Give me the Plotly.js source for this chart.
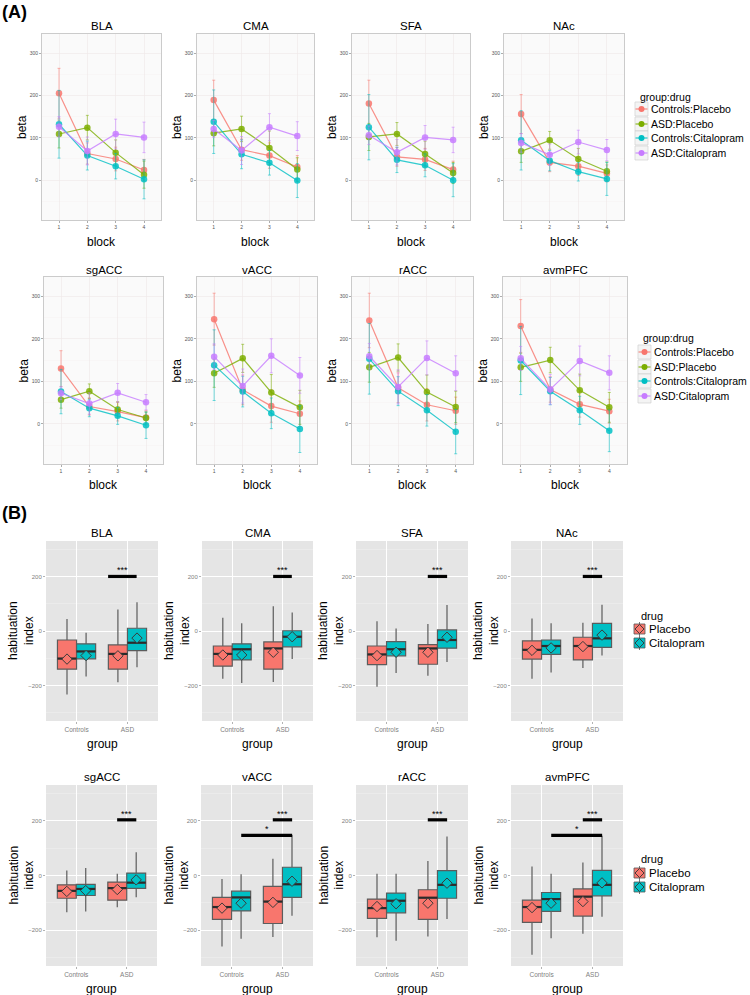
<!DOCTYPE html>
<html><head><meta charset="utf-8">
<script src="https://cdn.plot.ly/plotly-3.0.1.min.js"></script>
<style>html,body{margin:0;padding:0;background:#fff}#chart{width:750px;height:995px}</style>
</head><body><div id="chart"></div>
<script>
// ================= DATA =================
const regions = ['BLA','CMA','SFA','NAc','sgACC','vACC','rACC','avmPFC'];
const blocks = [1,2,3,4];
const seriesNames = ['Controls:Placebo','ASD:Placebo','Controls:Citalopram','ASD:Citalopram'];

// Panel A: mean beta per block (rows = regions in order above)
const ctrlPlaceboBeta = [[205,63,50,24],[189,72,58,31],[181,55,49,25],[156,42,33,16],[130,41,29,15],[246,80,42,24],[243,85,45,31],[230,81,46,30]];
const ctrlPlaceboErr  = [[59,25,28,25],[47,25,30,27],[55,22,26,20],[46,22,22,20],[42,20,22,16],[61,35,38,30],[64,35,38,32],[62,30,30,28]];
const asdPlaceboBeta  = [[109,124,65,13],[111,121,76,25],[102,109,62,17],[68,94,50,21],[57,77,34,14],[119,154,74,39],[133,156,75,40],[133,150,79,39]];
const asdPlaceboErr   = [[33,29,30,32],[30,30,40,28],[32,27,30,25],[26,21,25,22],[20,17,18,14],[33,33,42,40],[35,32,40,37],[33,30,38,35]];
const ctrlCitBeta     = [[132,58,33,2],[138,61,41,-1],[125,48,35,0],[94,46,20,3],[76,37,19,-3],[138,76,25,-12],[153,77,32,-18],[149,77,32,-16]];
const ctrlCitErr      = [[80,34,30,46],[75,34,29,40],[77,30,27,39],[70,24,22,39],[52,20,20,31],[83,36,36,55],[83,34,37,52],[80,32,33,49]];
const asdCitBeta      = [[126,69,109,101],[121,70,125,104],[106,66,101,95],[88,60,90,71],[72,48,73,51],[158,89,160,114],[159,87,155,119],[154,81,148,120]];
const asdCitErr       = [[24,33,35,36],[20,33,32,34],[22,30,28,30],[22,25,28,25],[15,25,22,18],[30,40,40,42],[30,40,40,41],[28,35,35,40]];

// Panel B: habituation index boxes [lower whisker, q1, median, q3, upper whisker]
const groups = ['Controls','ASD'];
const drugs = ['Placebo','Citalopram'];
const ctrlPlaceboBox = [[-233,-140,-101,-33,44],[-175,-129,-84,-55,49],[-204,-123,-86,-55,36],[-175,-103,-69,-36,46],[-134,-83,-56,-34,18],[-259,-160,-115,-80,-13],[-225,-156,-119,-86,6],[-289,-171,-115,-90,33]];
const ctrlCitBox      = [[-167,-102,-75,-47,-6],[-191,-106,-67,-47,28],[-154,-91,-67,-39,9],[-152,-86,-55,-33,28],[-131,-73,-49,-32,27],[-231,-129,-80,-57,5],[-238,-136,-92,-64,6],[-229,-131,-86,-62,6]];
const asdPlaceboBox   = [[-188,-140,-84,-51,79],[-187,-140,-64,-40,91],[-164,-122,-64,-50,26],[-136,-106,-55,-23,30],[-116,-90,-46,-24,6],[-224,-175,-95,-40,61],[-222,-160,-81,-52,53],[-212,-148,-77,-49,47]];
const asdCitBox       = [[-133,-72,-43,10,105],[-103,-58,-21,1,68],[-114,-63,-33,4,95],[-90,-60,-27,28,96],[-79,-47,-26,9,85],[-147,-80,-32,30,148],[-159,-83,-34,18,142],[-150,-74,-34,19,145]];
const ctrlPlaceboMean = [-103,-88,-90,-71,-58,-119,-113,-117];
const ctrlCitMean     = [-90,-88,-78,-62,-55,-101,-103,-101];
const asdPlaceboMean  = [-91,-78,-78,-57,-51,-98,-101,-95];
const asdCitMean      = [-26,-21,-23,-15,-16,-21,-28,-27];

// significance bars (x in group units: Controls=1, ASD=2)
const sigRegion = ['BLA','CMA','SFA','NAc','sgACC','vACC','vACC','rACC','avmPFC','avmPFC'];
const sigX0     = [1.62,1.81,1.81,1.81,1.81,1.81,1.19,1.81,1.81,1.19];
const sigX1     = [2.18,2.18,2.19,2.19,2.19,2.19,2.19,2.19,2.19,2.19];
const sigY      = [200,200,200,200,203,203,146,203,203,146];
const sigLabel  = ['***','***','***','***','***','***','*','***','***','*'];

// ================= STYLE / LAYOUT =================
const W = 750, H = 995;
const FONT = 'Liberation Sans, Arial, Helvetica, sans-serif';
const seriesColors = ['#F8766D','#7CAE00','#00BFC4','#C77CFF'];
const drugColors = ['#F8766D','#00BFC4'];
function rgba(hex, a){const n=parseInt(hex.slice(1),16);return `rgba(${n>>16&255},${n>>8&255},${n&255},${a})`;}
const P = x => x / W;
const Q = y => 1 - y / H;

// panel pixel boxes [left,right,top,bottom]
const domA = [[42,161,34,220],[197,314,34,220],[352,470,34,220],[504,624,34,220],[44,163,277,464],[197,317,277,464],[352,473,277,464],[503,627,277,464]];
const domB = [[46,158,541,721],[202,313,541,721],[356,468,541,721],[511,623,541,721],[46,157,785,966],[201,313,785,966],[356,468,785,966],[511,623,785,966]];
const titleYA = [26,270], xTitleYA = [242,485];
const titleYB = [533,777], xTitleYB = [744,989];

const layout = {
  width: W, height: H, margin: {l:0,r:0,t:0,b:0},
  paper_bgcolor: '#ffffff', plot_bgcolor: 'rgba(0,0,0,0)',
  showlegend: false, font: {family: FONT, color: '#000'},
  shapes: [], annotations: []
};
const traces = [];
const sfx = n => n === 1 ? '' : String(n);

function ann(text, x, y, size, opts){
  layout.annotations.push(Object.assign({text, x:P(x), y:Q(y), xref:'paper', yref:'paper',
    showarrow:false, font:{size, family:FONT, color:'#000'}, xanchor:'center', yanchor:'middle'}, opts||{}));
}

// ---------- Panel A ----------
const betaSets = [ctrlPlaceboBeta, asdPlaceboBeta, ctrlCitBeta, asdCitBeta];
const errSets  = [ctrlPlaceboErr, asdPlaceboErr, ctrlCitErr, asdCitErr];
regions.forEach((reg, r) => {
  const n = r + 1, d = domA[r], row = r < 4 ? 0 : 1;
  layout['xaxis' + sfx(n)] = {
    domain: [P(d[0]), P(d[1])], anchor: 'y' + sfx(n), range: [0.4, 4.6],
    tickmode: 'array', tickvals: blocks, ticktext: blocks.map(String),
    tickfont: {size: 5, color: '#555', family: FONT}, ticks: 'outside', ticklen: 2, tickcolor: '#777', tickwidth: 0.6,
    showgrid: true, gridcolor: '#EFE9EA', gridwidth: 0.7, zeroline: false,
    showline: true, mirror: true, linecolor: '#CBCBCB', linewidth: 1, fixedrange: true
  };
  layout['yaxis' + sfx(n)] = {
    domain: [Q(d[3]), Q(d[2])], anchor: 'x' + sfx(n), range: [-94, 345],
    tickmode: 'linear', tick0: 0, dtick: 100,
    tickfont: {size: 5, color: '#555', family: FONT}, ticks: 'outside', ticklen: 2, tickcolor: '#777', tickwidth: 0.6,
    showgrid: true, gridcolor: '#EFE9EA', gridwidth: 0.7, zeroline: false,
    minor: {dtick: 50, tick0: 0, showgrid: true, gridcolor: '#F5F1F2', gridwidth: 0.5, ticks: ''},
    showline: true, mirror: true, linecolor: '#CBCBCB', linewidth: 1, fixedrange: true
  };
  layout.shapes.push({type:'rect', xref:'x'+sfx(n)+' domain', yref:'y'+sfx(n)+' domain', x0:0, x1:1, y0:0, y1:1,
    fillcolor:'#FAFAFA', line:{width:0}, layer:'below'});
  seriesNames.forEach((s, k) => {
    traces.push({
      type: 'scatter', mode: 'lines+markers', name: s, xaxis: 'x' + sfx(n), yaxis: 'y' + sfx(n),
      x: blocks, y: betaSets[k][r],
      error_y: {type: 'data', array: errSets[k][r], visible: true, color: rgba(seriesColors[k], 0.55), thickness: 1, width: 1.5},
      line: {color: rgba(seriesColors[k], 0.8), width: 1.2},
      marker: {color: rgba(seriesColors[k], 0.85), size: 6.5},
      hoverinfo: 'skip'
    });
  });
  const cx = (d[0] + d[1]) / 2, cy = (d[2] + d[3]) / 2;
  ann(reg, cx, row ? titleYA[1] : titleYA[0], 11.5);
  ann('block', cx, row ? xTitleYA[1] : xTitleYA[0], 12);
  ann('beta', d[0] - 20, cy, 12, {textangle: -90});
});

// ---------- Panel B ----------
const boxSets = [[ctrlPlaceboBox, asdPlaceboBox], [ctrlCitBox, asdCitBox]];
const meanSets = [[ctrlPlaceboMean, asdPlaceboMean], [ctrlCitMean, asdCitMean]];
const dodge = 0.75, boxW = dodge / 2;
regions.forEach((reg, r) => {
  const n = r + 9, d = domB[r], row = r < 4 ? 0 : 1;
  layout['xaxis' + sfx(n)] = {
    domain: [P(d[0]), P(d[1])], anchor: 'y' + sfx(n), range: [0.4, 2.6],
    tickmode: 'array', tickvals: [1, 2], ticktext: groups,
    tickfont: {size: 6.5, color: '#808080', family: FONT}, ticks: 'outside', ticklen: 2, tickcolor: '#808080', tickwidth: 0.6,
    showgrid: true, gridcolor: '#FFFFFF', gridwidth: 1, zeroline: false, showline: false, fixedrange: true
  };
  layout['yaxis' + sfx(n)] = {
    domain: [Q(d[3]), Q(d[2])], anchor: 'x' + sfx(n), range: [-330, 330],
    tickmode: 'linear', tick0: 0, dtick: 200,
    tickfont: {size: 6, color: '#808080', family: FONT}, ticks: 'outside', ticklen: 2, tickcolor: '#808080', tickwidth: 0.6,
    showgrid: true, gridcolor: '#FFFFFF', gridwidth: 1, zeroline: false, showline: false,
    minor: {dtick: 100, tick0: 0, showgrid: true, gridcolor: '#F2F2F2', gridwidth: 0.5, ticks: ''},
    fixedrange: true
  };
  layout.shapes.push({type:'rect', xref:'x'+sfx(n)+' domain', yref:'y'+sfx(n)+' domain', x0:0, x1:1, y0:0, y1:1,
    fillcolor:'#E5E5E5', line:{width:0}, layer:'below'});
  drugs.forEach((dr, k) => {
    const off = (k - 0.5) * boxW;
    const xs = groups.map((g, gi) => gi + 1 + off);
    const b = boxSets[k].map(set => set[r]);
    traces.push({
      type: 'box', name: dr, xaxis: 'x' + sfx(n), yaxis: 'y' + sfx(n), x: xs,
      lowerfence: b.map(v => v[0]), q1: b.map(v => v[1]), median: b.map(v => v[2]),
      q3: b.map(v => v[3]), upperfence: b.map(v => v[4]),
      width: boxW, whiskerwidth: 0, fillcolor: drugColors[k],
      line: {color: '#5C5C5C', width: 1.2}, hoverinfo: 'skip'
    });
    // thick median line
    const mx = [], my = [];
    xs.forEach((x, i) => { mx.push(x - boxW / 2, x + boxW / 2, null); my.push(b[i][2], b[i][2], null); });
    traces.push({type: 'scatter', mode: 'lines', xaxis: 'x' + sfx(n), yaxis: 'y' + sfx(n), x: mx, y: my,
      line: {color: '#2B2B2B', width: 2.2}, hoverinfo: 'skip'});
    // mean diamonds
    traces.push({type: 'scatter', mode: 'markers', name: dr + ' mean', xaxis: 'x' + sfx(n), yaxis: 'y' + sfx(n),
      x: xs, y: meanSets[k].map(m => m[r]),
      marker: {symbol: 'diamond', size: 8, color: drugColors[k], line: {color: '#3A3A3A', width: 1}}, hoverinfo: 'skip'});
  });
  const cx = (d[0] + d[1]) / 2, cy = (d[2] + d[3]) / 2;
  ann(reg, cx, row ? titleYB[1] : titleYB[0], 11.5);
  ann('group', cx, row ? xTitleYB[1] : xTitleYB[0], 12);
  ann('habituation<br>index', d[0] - 25, cy, 12, {textangle: -90});
});

// significance bars
sigRegion.forEach((reg, i) => {
  const n = regions.indexOf(reg) + 9;
  traces.push({type: 'scatter', mode: 'lines', xaxis: 'x' + sfx(n), yaxis: 'y' + sfx(n),
    x: [sigX0[i], sigX1[i]], y: [sigY[i], sigY[i]], line: {color: '#000', width: 3.2}, hoverinfo: 'skip'});
  layout.annotations.push({text: sigLabel[i], xref: 'x' + sfx(n), yref: 'y' + sfx(n),
    x: (sigX0[i] + sigX1[i]) / 2, y: sigY[i], yshift: 6, showarrow: false,
    font: {size: 9, family: FONT, color: '#000'}, xanchor: 'center', yanchor: 'middle'});
});

// panel letters
ann('<b>(A)</b>', 0, 12, 18, {xanchor: 'left'});
ann('<b>(B)</b>', 0, 513, 18, {xanchor: 'left'});

// ---------- legends (keys drawn as layout decorations) ----------
function legendA(x, titleY, itemYs){
  ann('group:drug', x + 3, titleY, 10.5, {xanchor: 'left'});
  seriesNames.forEach((s, k) => {
    const y = itemYs[k];
    layout.shapes.push({type:'rect', xref:'paper', yref:'paper', x0:P(x), x1:P(x+13), y0:Q(y+7), y1:Q(y-7),
      fillcolor:'#F4F4F4', line:{color:'#D0D0D0', width:0.7}});
    layout.shapes.push({type:'line', xref:'paper', yref:'paper', x0:P(x+0.5), x1:P(x+12.5), y0:Q(y), y1:Q(y),
      line:{color: rgba(seriesColors[k], 0.85), width: 1.2}});
    layout.shapes.push({type:'circle', xref:'paper', yref:'paper', x0:P(x+3.5), x1:P(x+9.5), y0:Q(y+3), y1:Q(y-3),
      fillcolor: seriesColors[k], line:{width:0}});
    ann(s, x + 14, y, 10.5, {xanchor: 'left'});
  });
}
function legendB(x, titleY, itemYs){
  ann('drug', x + 6, titleY, 11, {xanchor: 'left'});
  drugs.forEach((dr, k) => {
    const y = itemYs[k];
    layout.shapes.push({type:'line', xref:'paper', yref:'paper', x0:P(x+6.5), x1:P(x+6.5), y0:Q(y+7), y1:Q(y-7),
      line:{color:'#777', width:1}});
    layout.shapes.push({type:'rect', xref:'paper', yref:'paper', x0:P(x+1), x1:P(x+12), y0:Q(y+5), y1:Q(y-5),
      fillcolor: drugColors[k], line:{color:'#555', width:0.8}});
    const dx = P(x+6.5), dy = Q(y), hw = 4.5 / W, hh = 4.5 / H;
    layout.shapes.push({type:'path', xref:'paper', yref:'paper',
      path:`M ${dx-hw} ${dy} L ${dx} ${dy+hh} L ${dx+hw} ${dy} L ${dx} ${dy-hh} Z`,
      fillcolor: drugColors[k], line:{color:'#333', width:0.9}});
    ann(dr, x + 14, y, 11.5, {xanchor: 'left'});
  });
}
legendA(635, 97, [109, 124, 138, 153]);
legendA(638, 338, [352, 367, 381, 396]);
legendB(633, 616, [629, 643]);
legendB(633, 859, [873, 887]);

Plotly.newPlot('chart', traces, layout, {staticPlot: true, displayModeBar: false});
</script>
</body></html>
